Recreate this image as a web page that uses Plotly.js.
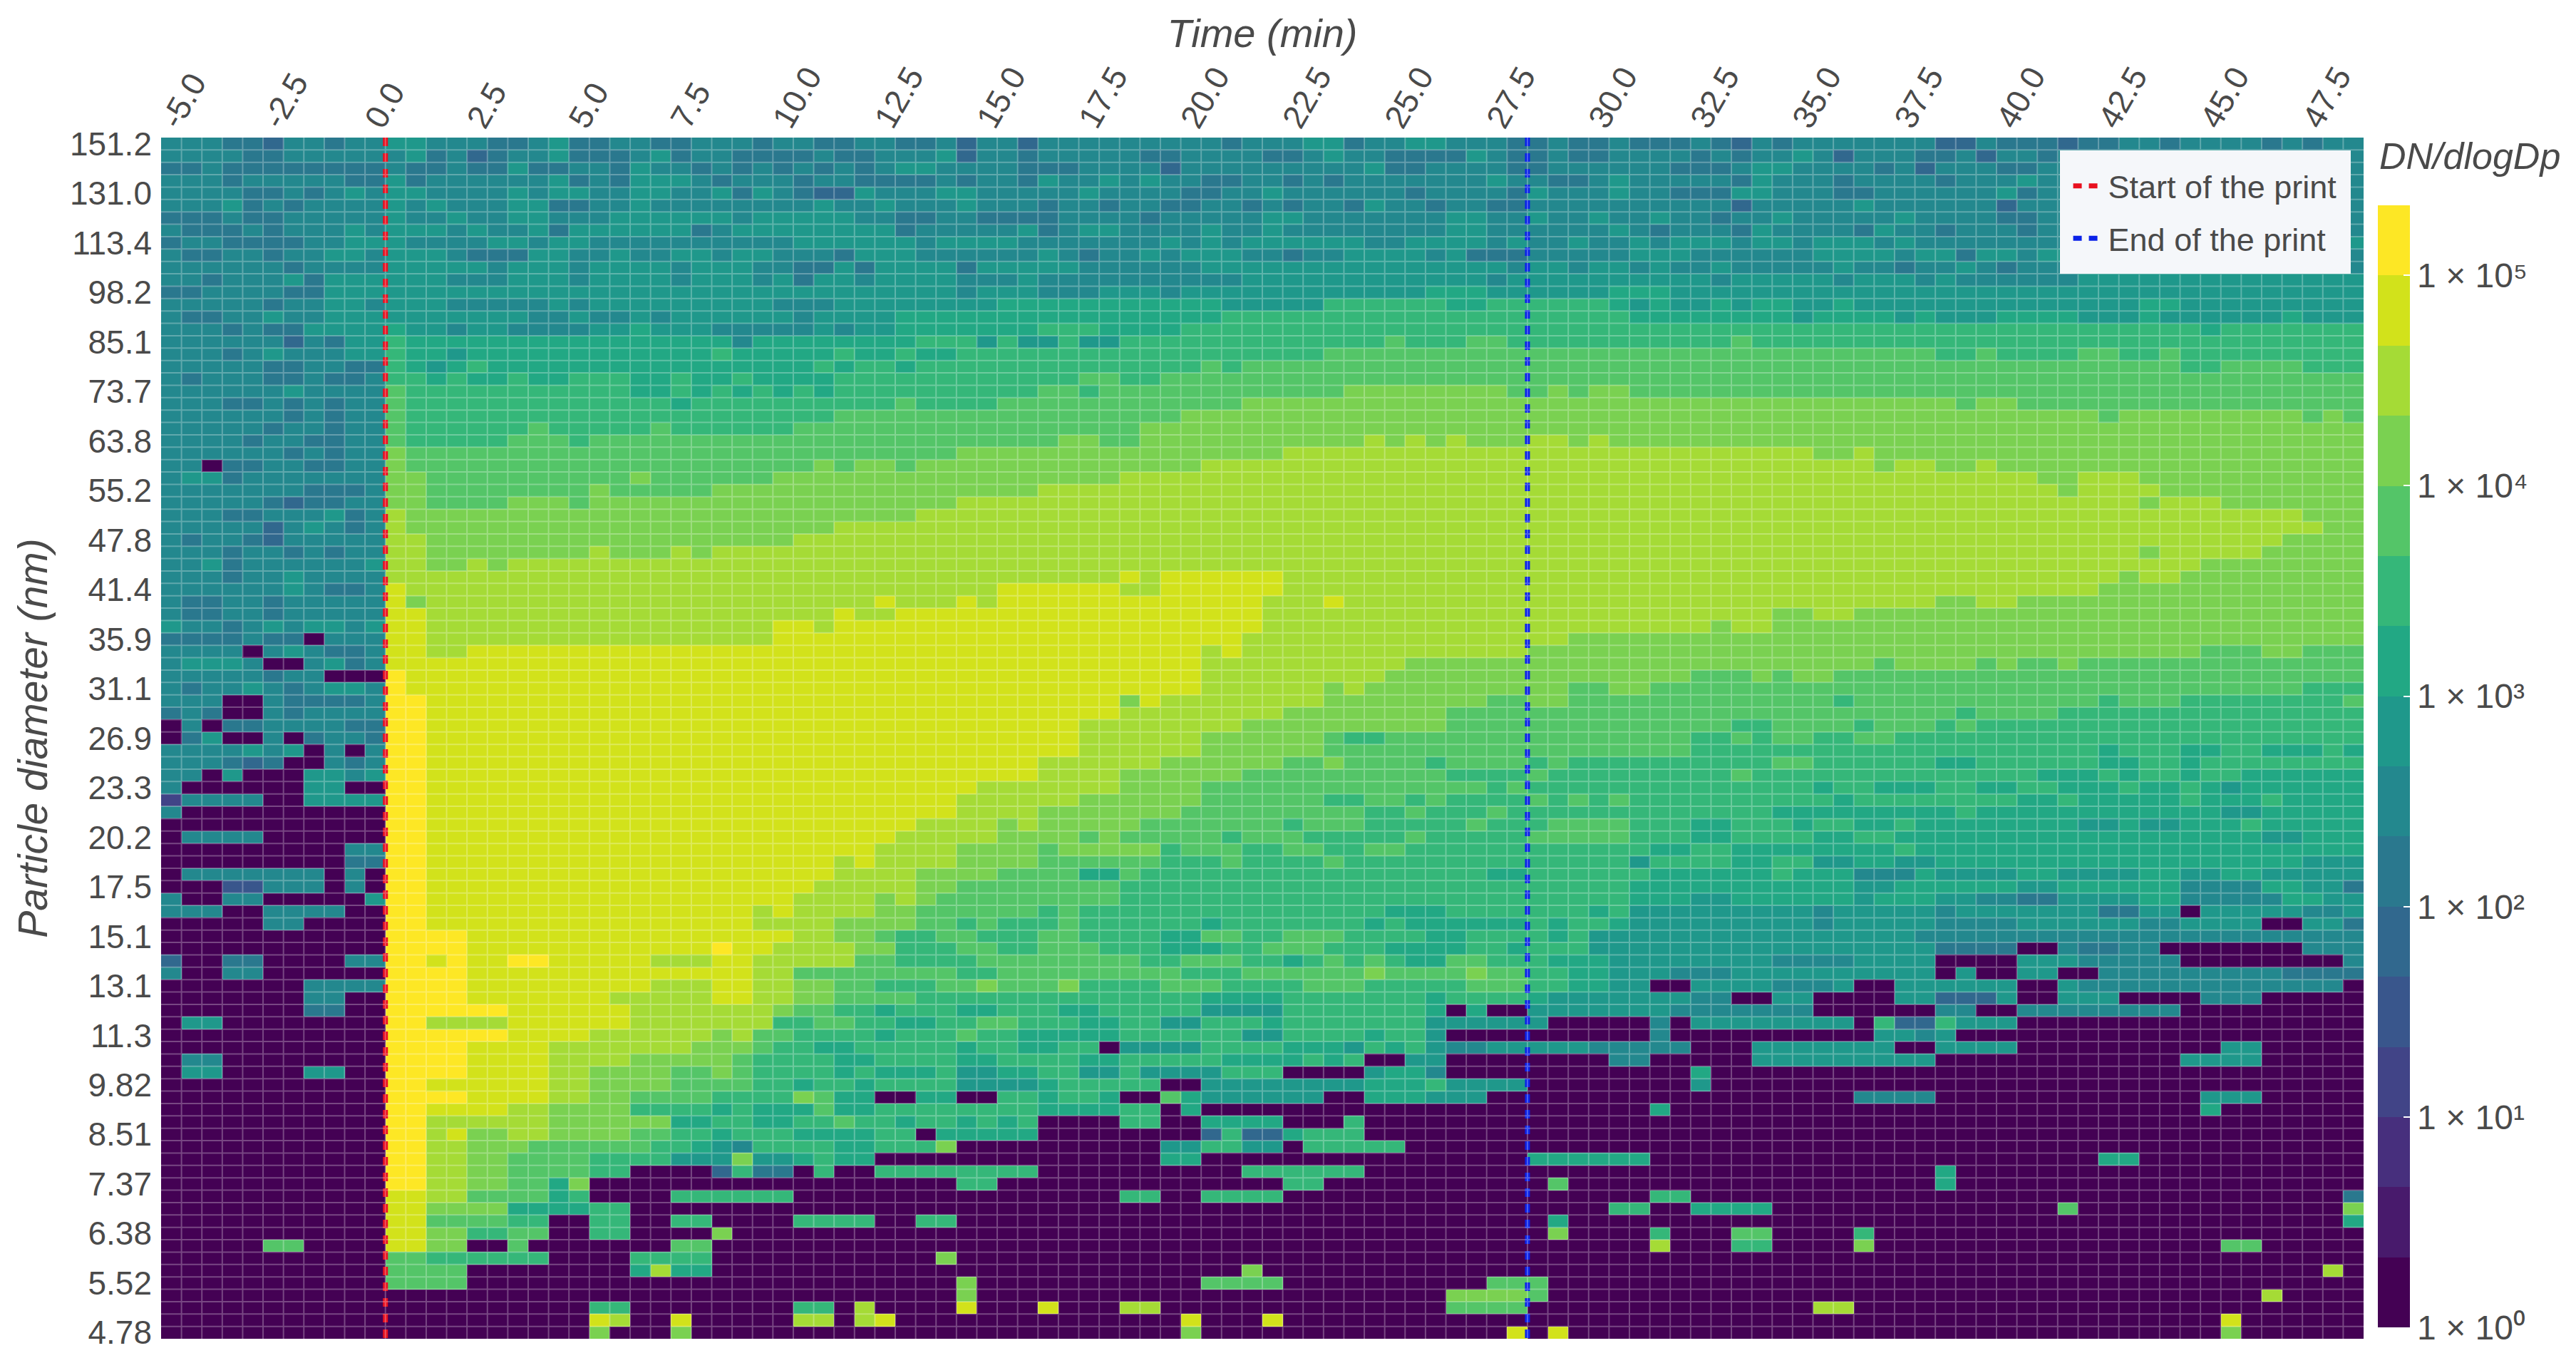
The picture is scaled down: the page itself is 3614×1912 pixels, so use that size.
<!DOCTYPE html>
<html>
<head>
<meta charset="utf-8">
<script src="https://cdn.plot.ly/plotly-3.0.1.min.js"></script>
<style>html,body{margin:0;padding:0;background:#fff}</style>
</head>
<body>
<div id="chart" style="width:3614px;height:1912px"></div>
<script>
// Band index for every cell: 0 (lowest colour band) to f (highest band).
// One string per size channel, top to bottom; "|" separates 36-column groups; "x*n" repeats x.
const bandsTop = [
"77766577677 8877766786677667776776677|667577577777777767778867788777667667|66676 5 767777777 55 7666 566776777767677",
"77776677777 7867567786667867766667667|778577677777667777667877666687667667|7776767787 5 777667 5 776777777887777777",
"66766666666 7667668667768776767676767|887777666777757777777778667777667777|776667887777675777 667777787777777777",
"77767777766 8677777786768887677767766|667677687787877667767677777778776678|777776877767777677 787777777777777777",
"77776676787 8877778788778877868765587|778877777877776677877777767777687778|776668877766777777 867777777777777777",
"77786767777 8787778866778777777778778|777877767767766776767768776776677777|777775777778777777 577777777777777777",
"66676677777 8778778877788888878888877|667766667777677777887777777887787787|787767787777787777 667777777777777777",
"76667677787 8887877868888886788888888|677777867887777877877777777887777778|767776877776877677 767777777777777777",
"67766667788 8777788788777777777788888|878888777777787878888887788887877877|878887887888787777 777777777777777778",
"76677677887 8887666887787788788777688|877777787677878887767788887866677777|888777777888878868 878877777777777777",
"77777767777 8888878887888878887766868|888688888777777888888888888888788788|787787777787767787 677777777777777777",
"77677786888 8887778887888878887868878|888777877777777778888888888887888888|888878888878887877 777788888888888888",
"66777766888 8888888888888888888888888|888788877788878888888888889998888889|998888888888888888 888888888888888888",
"77777677887 8887777787888888888777888|8*5 9*11 8*5 a*6 9*2 a*6 9|898898998898888888 888888899888888888",
"76677877888 8888888778778788888878888|9*16 a*20|999999998999989888 999988898888889888",
"77767668888 9887887777889888777778788|9*7 aaa 9*4 a*22|a*28 9 a*7",
"77777757688 a999999999999999979999999|9 aaa 8 a 88 a 88 a*13 b aaa bb a*6|a*5 b a*30",
"77767877788 a998999999999999a99999a99|a 99 a*18 b*15|b*15 aa b aaaa bb aa b a*9",
"77777667766 a989a9999999999999999a9aa|9 a*14 b a b*19|b*27 aa b*4 aaa",
"76777667667 aa9a99a99aaa99a99a9999aaa|a*9 bb aa b*23|b*36",
"77777787777 baaaaaaaaaaa 99 a 9 a 9 a 9 a 9 aaa|a*7 bb a b*12 c*8 bb c b cc|b*36",
"77766767677 baaaaaaaaaaaaa9aaaaaaaaaa|b aaaa b*12 c*19|c*16 b cc b*17",
"77777767677 b a*21 bbb|b*14 c*22|c*23 b c*9 b c b",
"77777677677 b a*6 b a*5 b a*6 b*5|b*12 c*24|c*36",
"77776776677 b a*5 bbb a b*15|bbb b*5 cc bb c*11 d c d c d ccc dd c d c|c*36",
"77777767677 c b*24|bbb c*16 d*17|d*9 cc d c*24",
"77066776677 c b b*19 c b cc|b c*14 d*21|d*12 c dd cc d c*18",
"78867777777 cc b*10 c b*6 c*6|c*11 d*25|d*20 cc ddd c*11",
"77777776667 cc b*8 c b*5 c*9|c*7 d*29|d*21 c d*4 c*10",
"77777656677 cc bbbb ccc b c*15|c*3 d*33|d*25 c ddd c*7",
"77766777867 d c*24|c d*35|d*33 ccc",
"77777578767 d c*21 ddd|d*36|d*34 cc"
];
const bandsMiddle = [
"76776577777 dd c*18 d*5|d*36|d*32 c*4",
"77767767677 dd c*8 d ccc d c d*9|d*36|d*25 c d*5 c*5",
"77867777778 dd cc d c d*19|d*36|d*28 c*8",
"77767787777 d*25|d*11 e d e*6 d*17|d*24 c dd c*9",
"77777787667 e d*24|d*5 e*6 dd e*6 d*17|d*23 c*13",
"76677677777 e c d*22 e|ddd e d e*13 ddd e d*14|d*15 cc dd c*17",
"76677677777 ee d*20 e dd|e*18 d*18|d*7 cc dd c*25",
"87767878878 ee d*17 ee d eee|e*18 d*18|d*4 c dd c*29",
"66667660777 ee d*17 e*6|e*17 d*16 ccc|c*36",
"77770787667 ee dd e*21|e*15 d e d*14 c*5|c*28 bbb cc bbb",
"78887007867 e*25|e*15 d*10 c*11|c*12 b c*4 b c bb c b*14",
"77777677000 f e*24|e*15 d*9 c*12|ccc bbb c b cc b*26",
"76778767887 f e*24|e*15 d*6 c d c*10 bb c|c b*32 aaa",
"77700766667 ff e*23|e*11 c e d*8 c*8 bb cc bbb|b*10 a b*12 a bbb a*8 b",
"67600767777 ff e*23|e*11 d*8 c*8 b*9|b*16 a b*4 a*15",
"07066777766 ff e*23|e*9 d*8 c*10 b*9|b*5 aa b*4 a b*3 a b a*19",
"06800706776 ff e*23|e*9 d*6 c*6 b aa bbb b*10|bbb aa b a bb aa bb a*23",
"77778780707 ff e*23|e*9 d*6 c*6 b*15|bbb a*20 9 a*3 99 aa 999 a 9",
"77765600767 ff e*23|e*7 d*6 c*6 bb c b*4 a b*4 a b aaa|a*7 bb a*6 99 a*6 99 aa 9 a*8",
"77080008878 ff e*23|e*7 d*4 c*6 b*10 a*4 b a*4|a*5 b a*14 999 a 9 aa 9 aa 9*6",
"70000008800 ff e*23|e*4 d*7 c*4 b*14 a b a*5|a*9 9 aa 999 aa 99 aa 999a99a98999999",
"37777008888 ff e*23|e*3 d*6 c*6 b*6 aa bb a b aaaa babab|a*10 9 a*8 99a99999a999a9999",
"7 0*10 ff e*23|e*3 d*4 c*7 b*9 aa b aaa b a*6|a*7 9*9 a 99 9*10 88 99999",
"0*11 ff e*23|e dddd c d c*5 b*7 a b*3 a*5 b aaa b*4|aaa 99 aaa 9 aa 99 a 9*8 88 9 88 999a99999",
"0 7777 000000 ff e*23|d*5 c*4 b c b*5 a b*3 a*5 b a*5 b*5|aaa 99 a*4 99 aa 9 9*17 88 999",
"0*9 77 ff e*22 d|ddd c*4 b c*5 a b*3 aa bb aa bb a*11|a 99 aa 9*8 a 9*22",
"0*9 66 ff e*20 d e d|ddd c*4 b*6 aaa b aaaa b a*14|8 aaaa 99 aa 88 99 88 9*18 888",
"0 7777777 0 7 0 ff e*20 ddd|d c*4 b*4 99 b a*17 99 a*5|a 9*6 a 9 99 777 9 8888 99 8888 99 88 99 88888",
"000 44 777 0 7 0 ff e*19 dddd|d cc b*8 a*25|9*11 88 9*6 88 9*6 77 77 99 88 6",
"7 00 77 00000 8 ff e*18 dddd c|d c b*9 a*25|999 88 9*6 8 999 8877 66 8 888 99 77777 99 88",
"777 00 7777 00 ff e*16 d e dddd c|c b*6 a b a*15 999 a*7 9 a|8*9 7 8*5 7 8*7 66 88 0 8*5 77 8",
"00000 77 0000 ff e*16 dddd ccc|c bb a b aaa b a*6 9 a*7 9 a 9*6 a 9 aa 9|8*9 7 8*5 7777 8*6 77 8*4 00 88 6"
];
const bandsBottom = [
"0*11 ffff e*12 eeee dd cc b|aabbaaabbaaaa99bbaabbbaaaa99aaaa9a88|8*14 7*22",
"0*11 ffff e*12 f ee dddd cc|aaabbaabbbaaa999aabbbaaa9999aa9aaa88|8*15 6666 00 7 66 77 0*7 777",
"5 00 66 0000 77 ff e f ee ff e*5 ddd ee d*5 bb|aaaabbbbbbbbaabbbaa9ababa99bbaaa9998|888888877778888 0000 88877777 0*8 7",
"7 00 77 000000 ffff e*10 ee ee dd b*5|bbbaabbbbbbbbbaaabbbbbbcbbbbcbbaa998|887778888888888 0 8 00 88 00 7777777776666",
"0*7 7777 ffff e*9 ddd ee dd cc bb a|aabbcbbbcaaaabbbaaaabbbaaaaabbbaa998|8 00 88887778 00 888888 00 87777777777777 0",
"0*7 77 00 ffff e*7 d*5 ee dd cc bbb|b a*14 9999 a*7 9aaaa98888|88877 00 88 0000 88 555 8 00 888 0000 777 00000",
"0*7 66 00 ffffff e*6 d*4 dddcbbaa9|aaa99aaa99aaaaa8888aaaaaaa 9 0 9 00 88888|887777777 0*6 77 00 77777777 0*9",
"0 88 0*8 ff dddd e*6 d*4 ddd aa bb aa|99aabbaaa99aa88aaa9aaaaaaa 888888 0000|0 7 0 88888888 0 a 55 a 888 0*17",
"0*11 ffffff e*4 d*6 cdbbaaaa9|aaabaa99999aaaaaa88aaaa9aa 8 0*9|0 7 0*10 8878 0*20",
"0*11 ffff e*4 dd d*5 c ccbaa99aa|aaa9aa99aa 0 8888 aaaa 999 8 a9a8 778888877|777 000 8888888 00 8888 0*10 88 0*5",
"0 77 0*8 ffff e*4 dddd cccc cbaaaa99a|aaa99aaaa99aaaaa9999a9a 00 88 00000000 7|7 00000 888888888 0*12 8888 00000",
"0 88 0000 88 00 ffff e*4 dd cccc bb cbaaaa9a9|99a8899aa88a8888aaa 0000 899 7 0*9|000 9 0*32",
"0*11 ff ee e*4 dd cccc bb bbaa9aa9a|aaa88889aaaaa 00 88888888999 a 8888 00000|000 8 0*32",
"0*11 ff ff e*4 dd cc bbbb aaaacb990|0 99 00 aa9aa9 00 b 9 888888 00 999 888 0*7|0*11 7777 0*13 888 0*5",
"0*11 ff ee ee dd cccc aaaa 9a999b99a|a aa aaaa 9999 aa 0 9 0*21|0 9 0*26 9 0*7",
"0*11 ff dd dd dd c*6 99 aa99aabaa|9 aa 9a9a 0000 aa 00 9999 000 a 0*13|0*36",
"0*11 ff de cc dd cccc bb aa 9aaa9999a|a 0 9 9999 0*8 5 a 55 9 aaa 0*13|0*36",
"0*11 ff dd cc c b*6 aa 9 87aaaa99a|aa c 0*10 88 aa 88 0 aaaaa 0*11|0*36",
"0*11 ff dd cc bbbb aaaa 88 8c889a990|0*13 99 0*16 9*5|9 0*22 99 0*11",
"0*11 ff dd cc bb bb aa 0000 5a660a00a|a*7 0*10 a*6 0*13|0*15 9 0*20",
"0*11 ff dd cc bb 9 c 0*6 0*9|000 aa 0*14 aa 0*11 b 000|0*15 9 0*20",
"0*11 ee dd bb bb 9 a 0000 aa aaaa00000|0*11 aa 00 aaaa 0*17|0 aa 0*32 6",
"0*11 ee cc cc 9999 aa 0000 0*9|0*35 a|a 00 9999 0*14 b 0*13 c",
"0*11 ee bb bb aa 00 aa 00 aa 0000aaaa0|0 aa 0*29 9 000|0*35 9",
"0*11 ee cc aa bb 00 aa 0000 c00000000|0*32 c 000|0 a 000 bb 0000 a 0*24",
"00000 bb 0000 ee cc 00 b 0 0*6 bb 0*9|0*36|0 d 000 aa 0000 c 0*17 bb 0*5",
"0*11 bb aa aaaa 0000 aa aa 0*9|00 c 0*33|0*36",
"0*11 bb bb 0*8 9 d 99 0*9|0*17 c 0*18|0*34 d 0",
"0*11 bbbb 0*12 0*9|000 c 0*11 bbbb 0*10 bbb 0000|0*36",
"0*11 0*25|000 c 0*23 cccc b 0000|0*31 d 0*4",
"0*11 0*10 aa 0000 0000aa0d0|000 e 000 e 000 dd 0*14 bbbb 0*5|0*9 dd 0*25",
"0*11 0*10 e d 00 e 0 0000dd0de|0*14 e 000 e 0*17|0*29 e 0*6",
"0*11 0*10 c 000 c 0 0*9|0*14 c 0*15 e 0 e 000|0*29 c 0*6"
];
const yLabels = ["151.2","131.0","113.4","98.2","85.1","73.7","63.8","55.2","47.8","41.4","35.9","31.1","26.9","23.3","20.2","17.5","15.1","13.1","11.3","9.82","8.51","7.37","6.38","5.52","4.78"];
const xTickValues = [-5,-2.5,0,2.5,5,7.5,10,12.5,15,17.5,20,22.5,25,27.5,30,32.5,35,37.5,40,42.5,45,47.5];
const colorbarPowers = [0,1,2,3,4,5];
const colorbarLabels = ["1 × 10⁰","1 × 10¹","1 × 10²","1 × 10³","1 × 10⁴","1 × 10⁵"];
const bandColors = ["#440154","#481a6c","#472f7d","#414487","#39568c","#31688e","#2a788e","#23888e","#1f988b","#22a884","#35b779","#54c568","#7ad151","#a5db36","#d2e21b","#fde725"];
const printStart = 0.25, printEnd = 28.25;

const GROUP = 36, COLS = 108, ROWS = 97;
function group(text){
  let s = text.replace(/([0-9a-f])\*(\d+)/g,(m,c,n)=>c.repeat(+n)).replace(/\s+/g,'');
  if(s.length < GROUP) s += s.charAt(s.length-1).repeat(GROUP - s.length);
  return s.slice(0,GROUP);
}
const allRows = bandsTop.concat(bandsMiddle, bandsBottom);
const z = allRows.map(r => r.split('|').map(group).join('').split('').map(c => (parseInt(c,16)+0.5)/3));
const x = Array.from({length:COLS},(_,i)=>-5+i*0.5);
const y = Array.from({length:ROWS},(_,i)=>i);
const colorscale = [];
bandColors.forEach((c,k)=>{colorscale.push([k/16,c]);colorscale.push([(k+1)/16,c]);});

// Thin translucent cell outlines over the heatmap, along the axis cell boundaries.
let gridPath = '';
for(let i=1;i<COLS;i++){ const v=-5.25+i*0.5; gridPath += `M${v},-0.5L${v},96.5`; }
for(let j=1;j<ROWS;j++){ const v=j-0.5; gridPath += `M-5.25,${v}L48.75,${v}`; }

const GREY = '#4a4a4a', FONT = '"Liberation Sans", Arial, sans-serif';
const data = [
 {type:'heatmap', x, y, z, zmin:0, zmax:16/3, colorscale, hoverinfo:'skip',
  showlegend:false,
  colorbar:{lenmode:'pixels', len:1574, thicknessmode:'pixels', thickness:45, x:1.0065, xanchor:'left', xpad:0, ypad:0,
   y:0.0095, yanchor:'bottom', outlinewidth:0, tickmode:'array', tickvals:colorbarPowers,
   ticktext:colorbarLabels, ticks:'inside', ticklen:9, tickwidth:2, tickcolor:'#ffffff',
   tickfont:{family:FONT,size:48,color:GREY}}},
 {type:'scatter', mode:'lines', x:[printStart,printStart], y:[-0.5,96.5], name:'Start of the print', legendgroup:'a',
  line:{color:'#e8101f',width:7,dash:'12px,10px'}, hoverinfo:'skip'},
 {type:'scatter', mode:'lines', x:[printEnd,printEnd], y:[-0.5,96.5], name:'End of the print', legendgroup:'b',
  line:{color:'#0a22e8',width:7,dash:'12px,10px'}, hoverinfo:'skip'}
];
const layout = {
 width:3614, height:1912, paper_bgcolor:'#ffffff', plot_bgcolor:'#ffffff',
 margin:{l:226,r:298,t:193,b:34,pad:0},
 font:{family:FONT,color:GREY},
 xaxis:{side:'top', range:[-5.25,48.75], tickmode:'array', tickvals:xTickValues, ticktext:xTickValues.map(v=>v.toFixed(1)),
  tickangle:-60, showgrid:false, zeroline:false, showline:false, ticks:'', ticklen:0, automargin:false,
  ticklabelstandoff:-12, ticklabelshift:-9,
  tickfont:{family:FONT,size:46,color:GREY},
  title:{text:'<i>Time (min)</i>', standoff:0, font:{family:FONT,size:56,color:GREY}}},
 yaxis:{range:[96.5,-0.5], tickmode:'array', tickvals:yLabels.map((_,i)=>i*4), ticktext:yLabels, showgrid:false, zeroline:false, showline:false,
  ticks:'', automargin:false, ticklabelstandoff:12, tickfont:{family:FONT,size:46,color:GREY},
  title:{text:'<i>Particle diameter (nm)</i>', standoff:12, font:{family:FONT,size:57,color:GREY}}},
 shapes:[{type:'path', xref:'x', yref:'y', layer:'above', path:gridPath, line:{color:'rgba(255,255,255,0.28)', width:2}}],
 legend:{x:0.862, y:0.9893, xanchor:'left', yanchor:'top', bgcolor:'#f5f7fa', bordercolor:'#f5f7fa', borderwidth:14,
  font:{family:FONT,size:45,color:GREY}, traceorder:'grouped', tracegroupgap:12, itemwidth:44, entrywidth:340, entrywidthmode:'pixels'},
 annotations:[{text:'<i>DN/dlogDp</i>', xref:'paper', yref:'paper', x:1.0065, y:0.9846, xanchor:'left', yanchor:'middle', showarrow:false,
  font:{family:FONT,size:52,color:GREY}}]
};
Plotly.newPlot('chart', data, layout, {displayModeBar:false, responsive:false});
</script>
</body>
</html>
